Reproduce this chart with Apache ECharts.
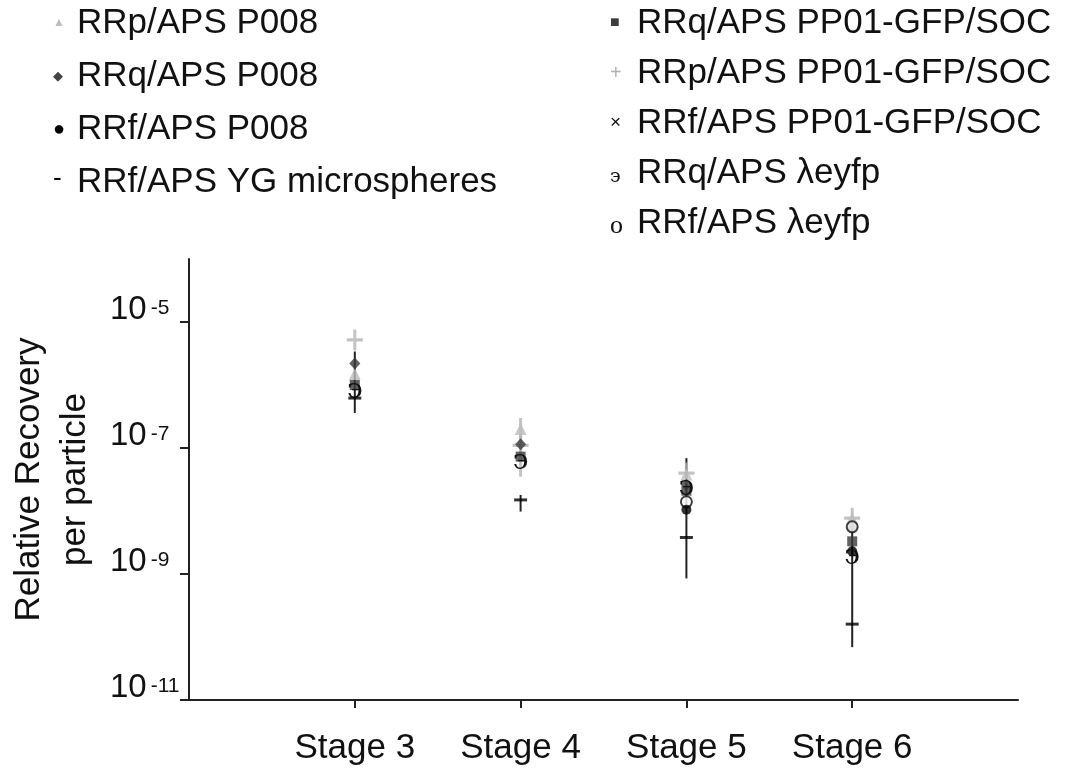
<!DOCTYPE html>
<html>
<head>
<meta charset="utf-8">
<script src="https://cdn.jsdelivr.net/npm/echarts@6/dist/echarts.min.js"></script>
<style>
  html, body { margin: 0; padding: 0; background: #fff; }
  #chart { width: 1067px; height: 778px; }
</style>
</head>
<body>
<div id="chart"></div>
<script>
// stages on the x axis
const stageNums = [3, 4, 5, 6];
const stageLabels = ['Stage 3', 'Stage 4', 'Stage 5', 'Stage 6'];
const yTicks = [1e-11, 1e-9, 1e-7, 1e-5];

// values (null = no visible mark)
const rrpP008 = [1.5e-6, 2.0e-7, 3.8e-8, 7.5e-9];
const rrqP008 = [2.2e-6, 1.15e-7, 2.6e-8, 5.4e-9];
const rrfP008 = [null, null, 1.05e-8, 2.3e-9];
const rrfYG = [6.2e-7, 1.5e-8, 3.8e-9, 1.6e-10];
const rrqPP01 = [1.0e-6, 7.3e-8, 2.1e-8, 3.3e-9];
const rrpPP01 = [5.2e-6, 1.1e-7, 4.0e-8, 7.7e-9];
const rrfPP01 = [null, null, null, null];
const rrqEyfp = [8.0e-7, 6.1e-8, 2.3e-8, 1.9e-9];
const rrfEyfp = [null, null, 1.4e-8, 5.6e-9];

// error bars
const rrfYGLow = [3.6e-7, 9.8e-9, 8.5e-10, 6.9e-11];
const rrfYGHigh = [3.4e-6, 1.8e-8, 6.9e-8, 7.2e-9];
const rrpP008Low = [null, 3.5e-8, null, null];
const rrpP008High = [null, 3.0e-7, null, null];

const names = [
    'RRp/APS P008', 'RRq/APS P008', 'RRf/APS P008', 'RRf/APS YG microspheres',
    'RRq/APS PP01-GFP/SOC', 'RRp/APS PP01-GFP/SOC', 'RRf/APS PP01-GFP/SOC',
    'RRq/APS λeyfp', 'RRf/APS λeyfp'
];

const FONT = '"Liberation Sans", Arial, sans-serif';
const SERIF = '"DejaVu Serif", "Liberation Serif", serif';

function pts(arr) {
    const out = [];
    arr.forEach((v, i) => { if (v != null) out.push([stageNums[i], v]); });
    return out;
}
function bars(lo, hi) {
    const out = [];
    lo.forEach((v, i) => { if (v != null) out.push([stageNums[i], v, hi[i]]); });
    return out;
}

const plusPath = 'path://M6.5,0H9.5V8.5H16V11.5H9.5V20H6.5V11.5H0V8.5H6.5Z';
const crossPath = 'path://M0,1.5L1.5,0L5,3.5L8.5,0L10,1.5L6.5,5L10,8.5L8.5,10L5,6.5L1.5,10L0,8.5L3.5,5Z';

// legend glyphs
const glyphs = {};
glyphs[names[0]] = { k: 'g0', t: '▲', s: { fontSize: 12, color: '#bdbdbd' } };
glyphs[names[1]] = { k: 'g1', t: '◆', s: { fontSize: 13, color: '#444' } };
glyphs[names[2]] = { k: 'g2', t: '●', s: { fontSize: 20, color: '#000' } };
glyphs[names[3]] = { k: 'g3', t: '-', s: { fontSize: 26, color: '#000', padding: [0, 0, 6, 0] } };
glyphs[names[4]] = { k: 'g4', t: '■', s: { fontSize: 16, color: '#3c3c3c' } };
glyphs[names[5]] = { k: 'g5', t: '+', s: { fontSize: 20, color: '#b0b0b0' } };
glyphs[names[6]] = { k: 'g6', t: '×', s: { fontSize: 19, color: '#111' } };
glyphs[names[7]] = { k: 'g7', t: '϶', s: { fontSize: 19, color: '#111', fontFamily: SERIF, padding: [8, 0, 0, 0] } };
glyphs[names[8]] = { k: 'g8', t: 'o', s: { fontSize: 26, color: '#111', fontFamily: '"Liberation Serif", serif', padding: [6, 0, 0, 0] } };

function legendRich(w) {
    const rich = {};
    Object.keys(glyphs).forEach(n => {
        rich[glyphs[n].k] = Object.assign({ width: w, align: 'left', fontFamily: FONT }, glyphs[n].s);
    });
    return rich;
}

function legendBox(data, left, gap, w) {
    return {
        orient: 'vertical',
        left: left,
        top: 0,
        itemGap: gap,
        itemWidth: 0,
        itemHeight: 14,
        selectedMode: false,
        data: data.map(n => ({ name: n, icon: 'none' })),
        formatter: n => '{' + glyphs[n].k + '|' + glyphs[n].t + '}' + n,
        textStyle: {
            fontSize: 35,
            lineHeight: 36,
            color: '#111',
            fontFamily: FONT,
            rich: legendRich(w)
        }
    };
}

function textMark(ch, size, family) {
    return function (params, api) {
        const p = api.coord([api.value(0), api.value(1)]);
        return {
            type: 'text',
            x: p[0],
            y: p[1],
            style: {
                text: ch,
                fontSize: size,
                fontFamily: family,
                fill: '#111',
                align: 'center',
                verticalAlign: 'middle'
            }
        };
    };
}

function errorBar(color, width) {
    return function (params, api) {
        const top = api.coord([api.value(0), api.value(2)]);
        const bot = api.coord([api.value(0), api.value(1)]);
        return {
            type: 'line',
            shape: { x1: top[0], y1: top[1], x2: bot[0], y2: bot[1] },
            style: { stroke: color, lineWidth: width }
        };
    };
}

const chart = echarts.init(document.getElementById('chart'));

const option = {
    animation: false,
    backgroundColor: '#fff',
    legend: [
        legendBox(names.slice(0, 4), 43, 17, 24),
        legendBox(names.slice(4), 600, 14, 27)
    ],
    grid: { left: 189, right: 49, top: 259, bottom: 78, containLabel: false, outerBoundsMode: 'none' },
    xAxis: {
        type: 'value',
        min: 2,
        max: 7,
        splitLine: { show: false },
        axisLine: { lineStyle: { color: '#222', width: 2 } },
        axisTick: { customValues: stageNums, length: 8, lineStyle: { color: '#222', width: 2 } },
        axisLabel: {
            customValues: stageNums,
            formatter: v => stageLabels[stageNums.indexOf(Math.round(v))] || '',
            fontSize: 35,
            lineHeight: 35,
            margin: 31,
            color: '#111',
            fontFamily: FONT
        }
    },
    yAxis: {
        type: 'log',
        logBase: 10,
        min: 1e-11,
        max: 1e-4,
        name: 'Relative Recovery\nper particle',
        nameLocation: 'middle',
        nameGap: 91,
        nameTextStyle: { fontSize: 35, lineHeight: 46, color: '#111', fontFamily: FONT },
        splitLine: { show: false },
        axisLine: { show: true, lineStyle: { color: '#222', width: 2 } },
        axisTick: { customValues: yTicks, length: 9, lineStyle: { color: '#222', width: 2 } },
        axisLabel: {
            customValues: yTicks,
            align: 'left',
            verticalAlign: 'bottom',
            margin: 79,
            formatter: v => '{b|10}{s|' + Math.round(Math.log10(v)) + '}',
            rich: {
                b: { fontSize: 33, lineHeight: 24, color: '#111', fontFamily: FONT },
                s: { fontSize: 21, lineHeight: 21, verticalAlign: 'top', padding: [0, 0, 0, 4], color: '#111', fontFamily: FONT }
            }
        }
    },
    series: [
        {
            type: 'custom', name: 'err YG', silent: true,
            renderItem: errorBar('#222', 2), data: bars(rrfYGLow, rrfYGHigh), z: 1
        },
        {
            type: 'custom', name: 'err P008', silent: true,
            renderItem: errorBar('#c4c4c4', 3), data: bars(rrpP008Low, rrpP008High), z: 1
        },
        {
            type: 'scatter', name: names[5], data: pts(rrpPP01),
            symbol: plusPath, symbolSize: [16, 21], itemStyle: { color: '#b4b4b4' }, z: 2
        },
        {
            type: 'scatter', name: names[0], data: pts(rrpP008),
            symbol: 'triangle', symbolSize: [12, 12], itemStyle: { color: '#bdbdbd' }, z: 2
        },
        {
            type: 'scatter', name: names[6], data: pts(rrfPP01),
            symbol: crossPath, symbolSize: 10, itemStyle: { color: '#111' }, z: 3
        },
        {
            type: 'scatter', name: names[4], data: pts(rrqPP01),
            symbol: 'rect', symbolSize: 10, itemStyle: { color: '#3c3c3c' }, z: 3
        },
        {
            type: 'scatter', name: names[1], data: pts(rrqP008),
            symbol: 'diamond', symbolSize: [11, 12], itemStyle: { color: '#3a3a3a' }, z: 3
        },
        {
            type: 'scatter', name: names[8], data: pts(rrfEyfp),
            symbol: 'emptyCircle', symbolSize: 11,
            itemStyle: { color: '#111', borderColor: '#111', borderWidth: 3 }, z: 4
        },
        {
            type: 'scatter', name: names[2], data: pts(rrfP008),
            symbol: 'circle', symbolSize: 10, itemStyle: { color: '#000' }, z: 4
        },
        {
            type: 'custom', name: names[7], data: pts(rrqEyfp),
            renderItem: textMark('϶', 28, SERIF), z: 5
        },
        {
            type: 'scatter', name: names[3], data: pts(rrfYG),
            symbol: 'rect', symbolSize: [13, 3], itemStyle: { color: '#000' }, z: 5
        }
    ]
};

chart.setOption(option);
</script>
</body>
</html>
